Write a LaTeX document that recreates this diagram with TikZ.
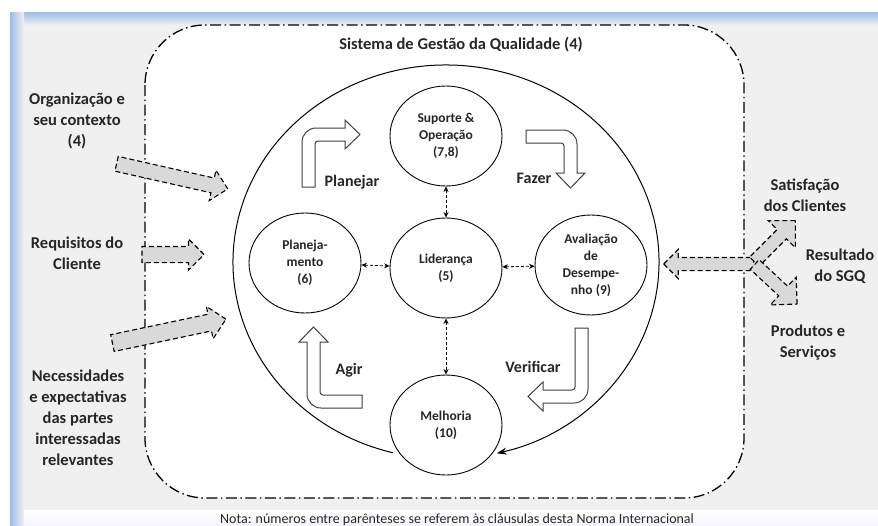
\documentclass[tikz,border=0pt]{standalone}
\usepackage{fontspec}
\setmainfont{Carlito}
\usetikzlibrary{positioning,calc,arrows.meta,shapes.geometric,shapes.arrows}

\definecolor{bggray}{RGB}{240,240,240}
\definecolor{edgeblue}{RGB}{158,188,230}
\definecolor{blkgray}{RGB}{217,217,217}
\definecolor{txt}{RGB}{38,38,38}

% hollow bent arrow: corner, rotation, tail leg, head leg
\newcommand{\bentarrow}[4]{%
	\draw [bendarrow, shift={#1}, rotate=#2]
		(0,-#3) -- (0,-14) arc[start angle=180, end angle=90, radius=14]
		-- (#4,0) -- (#4,8) -- ({#4+15},-6.5) -- (#4,-21) -- (#4,-13)
		-- (16,-13) arc[start angle=90, end angle=180, radius=3]
		-- (13,-#3) -- cycle;}

\begin{document}
\begin{tikzpicture}[x=1pt, y=1pt,
	lbl/.style={align=center, inner sep=0, text=txt, font=\bfseries\fontsize{16.5}{21}\selectfont},
	proc/.style={ellipse, draw, line width=0.9pt, minimum width=112pt, minimum height=100pt,
		inner sep=0, align=center, text=txt, font=\bfseries\fontsize{13.5}{17}\selectfont},
	blk/.style={single arrow, draw=black, fill=blkgray, line width=1.1pt,
		dash pattern=on 5pt off 3pt, inner xsep=0, single arrow tip angle=90},
	link/.style={dash pattern=on 3pt off 2pt, line width=0.8pt,
		{Stealth[length=5.5pt,width=5pt]}-{Stealth[length=5.5pt,width=5pt]}},
	bendarrow/.style={draw=black!75, fill=white, line width=1pt}]

	\useasboundingbox (0,0) rectangle (878,-525);

	% backdrop
	\fill [white] (0,0) rectangle (878,-525);
	\fill [bggray] (10,-12) rectangle (878,-525);
	\shade [top color=white, bottom color=blue!4] (10,-510) rectangle (878,-525);
	\shade [top color=edgeblue, bottom color=bggray] (10,-12) rectangle (878,-25);
	\shade [left color=edgeblue, right color=bggray] (10,-12) rectangle (24,-525);

	\draw [fill=white, line width=1.3pt, rounded corners=60pt,
		dash pattern=on 11pt off 3.5pt on 1.5pt off 3.5pt] (145,-25) rectangle (744,-498);

	\node [lbl] (sgq) at (461,-45) {Sistema de Gestão da Qualidade (4)};

	% processes
	\node [proc] (sup)  at (446,-136) {Suporte \&\\Operação\\(7,8)};
	\node [proc] (plan) at (305,-263) {Planeja-\\mento\\(6)};
	\node [proc] (lid)  at (446,-268) {Liderança\\(5)};
	\node [proc] (aval) at (591,-265) {Avaliação\\de\\Desempe-\\nho (9)};
	\node [proc] (melh) at (446,-425) {Melhoria\\(10)};

	\coordinate (cyc) at (446,-262);
	\draw [line width=1pt, -{Stealth[length=10pt,width=7pt]}]
		([shift={(255.6:213 and 197)}]cyc) arc[start angle=255.6, end angle=-76.2, x radius=213, y radius=197];

	\draw [link] (sup) to (lid);
	\draw [link] (plan) to (lid);
	\draw [link] (lid) to (aval);
	\draw [link] (lid) to (melh);

	% PDCA
	\bentarrow{(302,-128)}{0}{59}{43}
	\bentarrow{(577,-130)}{-90}{51}{43}
	\bentarrow{(588,-403)}{180}{75}{45}
	\bentarrow{(307,-408)}{90}{55}{66}

	\node [lbl, font=\bfseries\fontsize{16}{19}\selectfont] (pl) at (352,-182) {Planejar};
	\node [lbl, font=\bfseries\fontsize{16}{19}\selectfont] (fz) at (534,-178) {Fazer};
	\node [lbl, font=\bfseries\fontsize{16}{19}\selectfont] (vf) at (533,-367) {Verificar};
	\node [lbl, font=\bfseries\fontsize{16}{19}\selectfont] (ag) at (349,-370) {Agir};

	% inputs
	\node [lbl] (org) at (77,-121) {Organização e\\seu contexto\\(4)};
	\node [lbl] (req) at (77,-253) {Requisitos do\\Cliente};
	\node [lbl] (nec) at (78,-418) {Necessidades\\e expectativas\\das partes\\interessadas\\relevantes};

	\node [blk, inner ysep=7pt, single arrow head extend=8pt, minimum height=114pt, rotate=-12.7] (orga) at (168.5,-175.5) {};
	\node [blk, inner ysep=7.5pt, single arrow head extend=7.5pt, minimum height=62pt] (reqa) at (169,-254.5) {};
	\node [blk, inner ysep=8pt, single arrow head extend=8pt, minimum height=116pt, rotate=11.9] (neca) at (165,-332) {};

	% outputs
	\node [lbl] (sat)  at (805,-195) {Satisfação\\dos Clientes};
	\node [lbl] (res)  at (840,-266) {Resultado\\do SGQ};
	\node [lbl] (prod) at (808,-343) {Produtos e\\Serviços};

	\node [blk, inner ysep=6pt, single arrow head extend=8pt, minimum height=90pt, rotate=180] (outa) at (712,-264) {};
	\node [blk, inner ysep=6pt, single arrow head extend=12.5pt, minimum height=58pt, rotate=45] (sata) at (772.5,-243.5) {};
	\node [blk, inner ysep=6pt, single arrow head extend=12.5pt, minimum height=58pt, rotate=-43] (proda) at (773.5,-282) {};

	\node [text=txt, font=\fontsize{14}{16}\selectfont, anchor=base] (nota) at (457,-523)
		{Nota: números entre parênteses se referem às cláusulas desta Norma Internacional};
\end{tikzpicture}
\end{document}
